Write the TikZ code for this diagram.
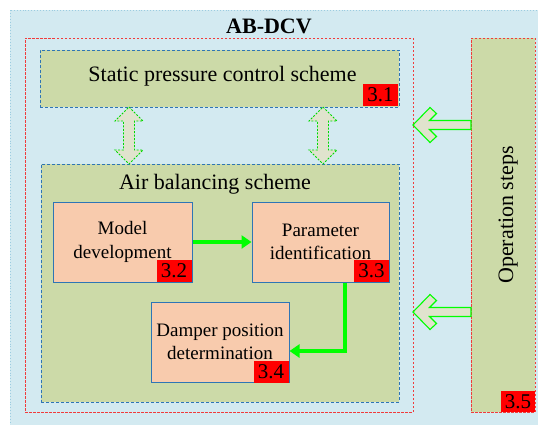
\documentclass[tikz,border=0pt]{standalone}
\usepackage{fontspec}
\setmainfont{Liberation Serif}
\usetikzlibrary{arrows.meta}
\definecolor{bgblue}{HTML}{D3EAF1}
\definecolor{bgborder}{HTML}{9CCCE0}
\definecolor{olivefill}{HTML}{CCDAA8}
\definecolor{peach}{HTML}{F8CBAD}
\definecolor{boxblue}{HTML}{2E75B6}
\definecolor{brightgreen}{HTML}{00FF00}
\definecolor{arrowfill}{HTML}{E0E3CD}
\definecolor{reddash}{HTML}{F03C3C}
\begin{document}
\begin{tikzpicture}[x=1pt,y=-1pt,
  panel/.style={draw=boxblue, fill=olivefill, dash pattern=on 3pt off 2pt, line width=0.9pt, inner sep=0pt},
  redbox/.style={draw=reddash, dash pattern=on 2.5pt off 1.5pt, line width=0.9pt},
  block/.style={draw=boxblue, fill=peach, line width=1pt, align=center, inner sep=0pt,
    minimum height=80pt, font=\fontsize{19}{23.5}\selectfont},
  tag/.style={fill=red, inner sep=0pt, minimum width=35pt, minimum height=22pt,
    font=\fontsize{21}{21}\selectfont},
  flow/.style={draw=brightgreen, line width=4pt, -{Triangle[length=10pt,width=13pt]}},
  dbl/.style={draw=brightgreen!85!black, fill=arrowfill, dash pattern=on 2pt off 1.5pt, line width=0.9pt},
  hollow/.style={draw=brightgreen, fill=arrowfill, line width=1.1pt, line join=miter},
  vdbl/.pic={\draw[dbl] (0,107) -- (14,121) -- (5.5,121) -- (5.5,150) -- (14,150) -- (0,164)
      -- (-14,150) -- (-5.5,150) -- (-5.5,121) -- (-14,121) -- cycle;},
  hleft/.pic={\draw[hollow] (413,0) -- (430,-17.5) -- (436.5,-11.5) -- (429.5,-4.5) -- (471,-4.5)
      -- (471,4.5) -- (429.5,4.5) -- (436.5,11.5) -- (430,17.5) -- cycle;}
]
\useasboundingbox (0,0) rectangle (538,424);
% background
\draw[bgborder, fill=bgblue, dotted, line width=0.9pt] (10,10) rectangle (545,430);
% AB-DCV frame
\node[redbox, minimum width=388pt, minimum height=374pt, inner sep=0pt] (dcv) at (219,225) {};
\node[font=\fontsize{22}{26}\selectfont\bfseries, anchor=base] (title) at (269,33.5) {AB-DCV};
% static pressure
\node[panel, minimum width=359pt, minimum height=57pt] (static) at (219.5,78.5) {};
\node[font=\fontsize{22}{26}\selectfont, anchor=base] (statictxt) at (222.5,81.5) {Static pressure control scheme};
\node[tag] (t31) at (380.5,95) {3.1};
% air balancing
\node[panel, minimum width=358pt, minimum height=238pt] (air) at (220,283) {};
\node[font=\fontsize{22}{26}\selectfont, anchor=base] (airtxt) at (215,189) {Air balancing scheme};
% blocks
\node[block, minimum width=139pt] (model) at (122.5,242) {Model\\development};
\node[block, minimum width=137pt] (param) at (320.5,242) {Parameter\\identification};
\node[block, minimum width=138pt] (damper) at (220,342) {Damper position\\determination};
\node[tag] (t32) at (174,271) {3.2};
\node[tag] (t33) at (371.5,270.5) {3.3};
\node[tag] (t34) at (271,371.5) {3.4};
% operation steps
\node[redbox, fill=olivefill, minimum width=64pt, minimum height=374pt, inner sep=0pt] (ops) at (503,225) {};
\node[font=\fontsize{22}{26}\selectfont, rotate=90, anchor=base] (opstxt) at (513,215) {Operation steps};
\node[tag, minimum width=34pt, minimum height=21pt] (t35) at (518,401.5) {3.5};
% flows
\draw[flow] (model.east) -- (param.west);
\draw[flow] ([xshift=24.5pt]param.south) |- ([yshift=-9pt]damper.east);
% double arrows
\pic at (129,0) {vdbl};
\pic at (323,0) {vdbl};
% hollow arrows
\pic at (0,125) {hleft};
\pic at (0,312) {hleft};
\end{tikzpicture}
\end{document}
